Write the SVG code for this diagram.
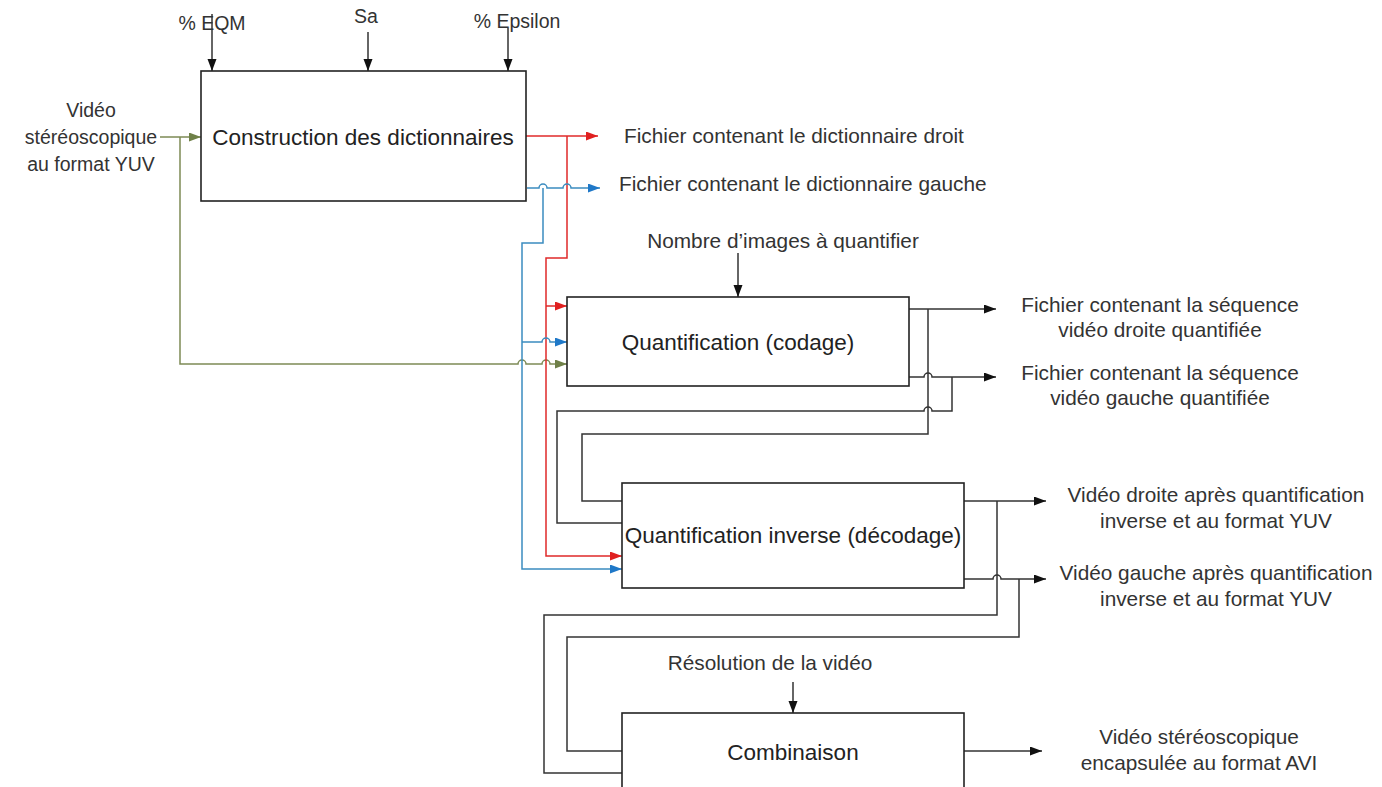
<svg xmlns="http://www.w3.org/2000/svg" width="1382" height="787" viewBox="0 0 1382 787">
<style>
.box{fill:#fff;stroke:#222;stroke-width:1.6}
.bt{font-family:"Liberation Sans",Arial,sans-serif;font-size:22.5px;fill:#222;text-anchor:middle}
.lb{font-family:"Liberation Sans",Arial,sans-serif;font-size:20.8px;fill:#333}
.sm{font-size:19.5px}
.m{text-anchor:middle}
.k{fill:none;stroke:#333;stroke-width:1.5}
.r{fill:none;stroke:#e02a2a;stroke-width:1.5}
.b{fill:none;stroke:#3b8cc0;stroke-width:1.5}
.g{fill:none;stroke:#7d8a55;stroke-width:1.5}
</style>
<defs>
<marker id="ak" markerUnits="userSpaceOnUse" markerWidth="13" markerHeight="10" refX="12" refY="4.5" orient="auto"><path d="M0,0 L12,4.5 L0,9 z" fill="#111"/></marker>
<marker id="ar" markerUnits="userSpaceOnUse" markerWidth="13" markerHeight="10" refX="12" refY="4.5" orient="auto"><path d="M0,0 L12,4.5 L0,9 z" fill="#e02020"/></marker>
<marker id="ab" markerUnits="userSpaceOnUse" markerWidth="13" markerHeight="10" refX="12" refY="4.5" orient="auto"><path d="M0,0 L12,4.5 L0,9 z" fill="#1f78c8"/></marker>
<marker id="ag" markerUnits="userSpaceOnUse" markerWidth="13" markerHeight="10" refX="12" refY="4.5" orient="auto"><path d="M0,0 L12,4.5 L0,9 z" fill="#6f8048"/></marker>
</defs>

<g id="connectors">
<path class="k" d="M212,14 V71" marker-end="url(#ak)"/>
<path class="k" d="M368,32 V71" marker-end="url(#ak)"/>
<path class="k" d="M508,28 V71" marker-end="url(#ak)"/>
<path class="g" d="M160,137 H201" marker-end="url(#ag)"/>
<path class="g" d="M180,137 V364 H518 A4,4 0 0 1 526,364 H542 A4,4 0 0 1 550,364 H567" marker-end="url(#ag)"/>
<path class="r" d="M526,136 H598" marker-end="url(#ar)"/>
<path class="r" d="M567,136 V258 H546 V556 H622" marker-end="url(#ar)"/>
<path class="r" d="M546,306 H567" marker-end="url(#ar)"/>
<path class="b" d="M527,188 H539 A4,4 0 0 1 547,188 H563 A4,4 0 0 1 571,188 H600" marker-end="url(#ab)"/>
<path class="b" d="M543,188 V243 H522 V569 H622" marker-end="url(#ab)"/>
<path class="b" d="M522,342 H542 A4,4 0 0 1 550,342 H567" marker-end="url(#ab)"/>
<path class="k" d="M738,253 V297" marker-end="url(#ak)"/>
<path class="k" d="M909,309 H996" marker-end="url(#ak)"/>
<path class="k" d="M928,309 V434 H582 V501 H622"/>
<path class="k" d="M909,377 H924 A4,4 0 0 1 932,377 H996" marker-end="url(#ak)"/>
<path class="k" d="M952,377 V411 H932 A4,4 0 0 0 924,411 H557 V523 H622"/>
<path class="k" d="M964,501 H1046" marker-end="url(#ak)"/>
<path class="k" d="M997,501 V615 H544 V773 H622"/>
<path class="k" d="M964,579 H993 A4,4 0 0 1 1001,579 H1046" marker-end="url(#ak)"/>
<path class="k" d="M1019,579 V637 H567 V751 H622"/>
<path class="k" d="M793,682 V713" marker-end="url(#ak)"/>
<path class="k" d="M964,751 H1042" marker-end="url(#ak)"/>
</g>

<g id="node-construction">
<rect class="box" x="201" y="71" width="325" height="130"/>
<text class="bt" x="363" y="145">Construction des dictionnaires</text>
</g>
<g id="node-quantification">
<rect class="box" x="567" y="297" width="342" height="89"/>
<text class="bt" x="738" y="350">Quantification (codage)</text>
</g>
<g id="node-quantification-inverse">
<rect class="box" x="622" y="483" width="342" height="105"/>
<text class="bt" x="793" y="543">Quantification inverse (décodage)</text>
</g>
<g id="node-combinaison">
<rect class="box" x="622" y="713" width="342" height="90"/>
<text class="bt" x="793" y="760">Combinaison</text>
</g>

<g id="labels">
<text class="lb sm m" x="212" y="30">% EQM</text>
<text class="lb sm m" x="366" y="23">Sa</text>
<text class="lb sm m" x="517" y="28">% Epsilon</text>
<text class="lb sm m" x="91" y="117">Vidéo</text>
<text class="lb sm m" x="91" y="144">stéréoscopique</text>
<text class="lb sm m" x="91" y="171">au format YUV</text>
<text class="lb" x="624" y="143">Fichier contenant le dictionnaire droit</text>
<text class="lb" x="619" y="191">Fichier contenant le dictionnaire gauche</text>
<text class="lb m" x="783" y="248">Nombre d’images à quantifier</text>
<text class="lb m" x="1160" y="312">Fichier contenant la séquence</text>
<text class="lb m" x="1160" y="337">vidéo droite quantifiée</text>
<text class="lb m" x="1160" y="380">Fichier contenant la séquence</text>
<text class="lb m" x="1160" y="405">vidéo gauche quantifiée</text>
<text class="lb m" x="1216" y="502">Vidéo droite après quantification</text>
<text class="lb m" x="1216" y="528">inverse et au format YUV</text>
<text class="lb m" x="1216" y="580">Vidéo gauche après quantification</text>
<text class="lb m" x="1216" y="606">inverse et au format YUV</text>
<text class="lb m" x="770" y="670">Résolution de la vidéo</text>
<text class="lb m" x="1199" y="744">Vidéo stéréoscopique</text>
<text class="lb m" x="1199" y="770">encapsulée au format AVI</text>
</g>
</svg>
